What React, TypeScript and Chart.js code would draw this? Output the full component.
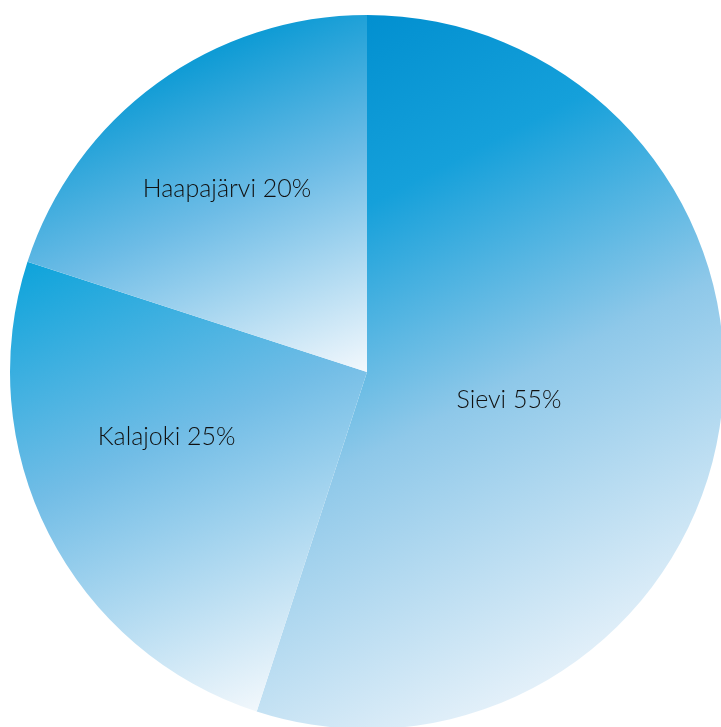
import React, { useEffect, useRef } from "react";
import { Chart, registerables } from "chart.js";

Chart.register(...registerables);

const categories: string[] = ["Sievi", "Kalajoki", "Haapajärvi"];
const shares: number[] = [55, 25, 20];
const labelTexts: string[] = ["Sievi 55%", "Kalajoki 25%", "Haapajärvi 20%"];

// styling for gradients: [x0, y0, x1, y1] relative to radius, colour stops
const gradientDefs = [
  { from: [-0.1, -1.0], to: [0.85, 0.85], stops: [[0, "#008ecf"], [0.25, "#15a0da"], [0.55, "#8ec8e9"], [1, "#f2f7fc"]] },
  { from: [-0.95, -0.35], to: [-0.35, 0.98], stops: [[0, "#08a2da"], [0.45, "#72bde6"], [1, "#f3f8fc"]] },
  { from: [-0.4, -0.98], to: [0.02, 0.0], stops: [[0, "#0096d2"], [0.45, "#6dbce6"], [1, "#f5f9fd"]] },
];
const labelAngleFrac = [0.51, 0.6, 0.48];
const labelRadiusFrac = [0.405, 0.59, 0.645];

const RADIUS = 357;
const SIZE = 760;
const CX = 367;
const CY = 372;

export default function App() {
  const ref = useRef<HTMLCanvasElement | null>(null);
  useEffect(() => {
    document.body.style.margin = "0";
    const canvas = ref.current!;
    const labelPlugin = {
      id: "sliceLabels",
      afterDatasetsDraw(chart: any) {
        const ctx = chart.ctx;
        const meta = chart.getDatasetMeta(0);
        ctx.save();
        ctx.font = "300 25px Lato, 'Open Sans', sans-serif";
        ctx.fillStyle = "#111111";
        ctx.textAlign = "center";
        ctx.textBaseline = "middle";
        meta.data.forEach((arc: any, i: number) => {
          const { x, y, startAngle, endAngle, outerRadius } = arc.getProps(
            ["x", "y", "startAngle", "endAngle", "outerRadius"],
            true
          );
          const a = startAngle + (endAngle - startAngle) * labelAngleFrac[i];
          const r = outerRadius * labelRadiusFrac[i];
          ctx.fillText(labelTexts[i], x + Math.cos(a) * r, y + Math.sin(a) * r);
        });
        ctx.restore();
      },
    };
    const chart = new Chart(canvas, {
      type: "pie",
      data: {
        labels: categories,
        datasets: [
          {
            data: shares,
            borderWidth: 0,
            backgroundColor: (context: any) => {
              const c = context.chart;
              const area = c.chartArea;
              if (!area) return "#0096d2";
              const i = context.dataIndex;
              const def = gradientDefs[i];
              const cx = (area.left + area.right) / 2;
              const cy = (area.top + area.bottom) / 2;
              const g = c.ctx.createLinearGradient(
                cx + def.from[0] * RADIUS,
                cy + def.from[1] * RADIUS,
                cx + def.to[0] * RADIUS,
                cy + def.to[1] * RADIUS
              );
              def.stops.forEach((s: any) => g.addColorStop(s[0], s[1]));
              return g;
            },
          },
        ],
      },
      options: {
        responsive: false,
        animation: false,
        radius: RADIUS,
        layout: { padding: 0 },
        plugins: {
          legend: { display: false },
          tooltip: { enabled: false },
        },
      } as any,
      plugins: [labelPlugin],
    });
    return () => chart.destroy();
  }, []);

  return (
    <div
      style={{
        position: "fixed",
        left: 0,
        top: 0,
        width: 721,
        height: 727,
        overflow: "hidden",
        background: "#ffffff",
      }}
    >
      <canvas
        ref={ref}
        width={SIZE}
        height={SIZE}
        style={{
          position: "absolute",
          left: CX - SIZE / 2,
          top: CY - SIZE / 2,
          width: SIZE,
          height: SIZE,
        }}
      />
    </div>
  );
}
